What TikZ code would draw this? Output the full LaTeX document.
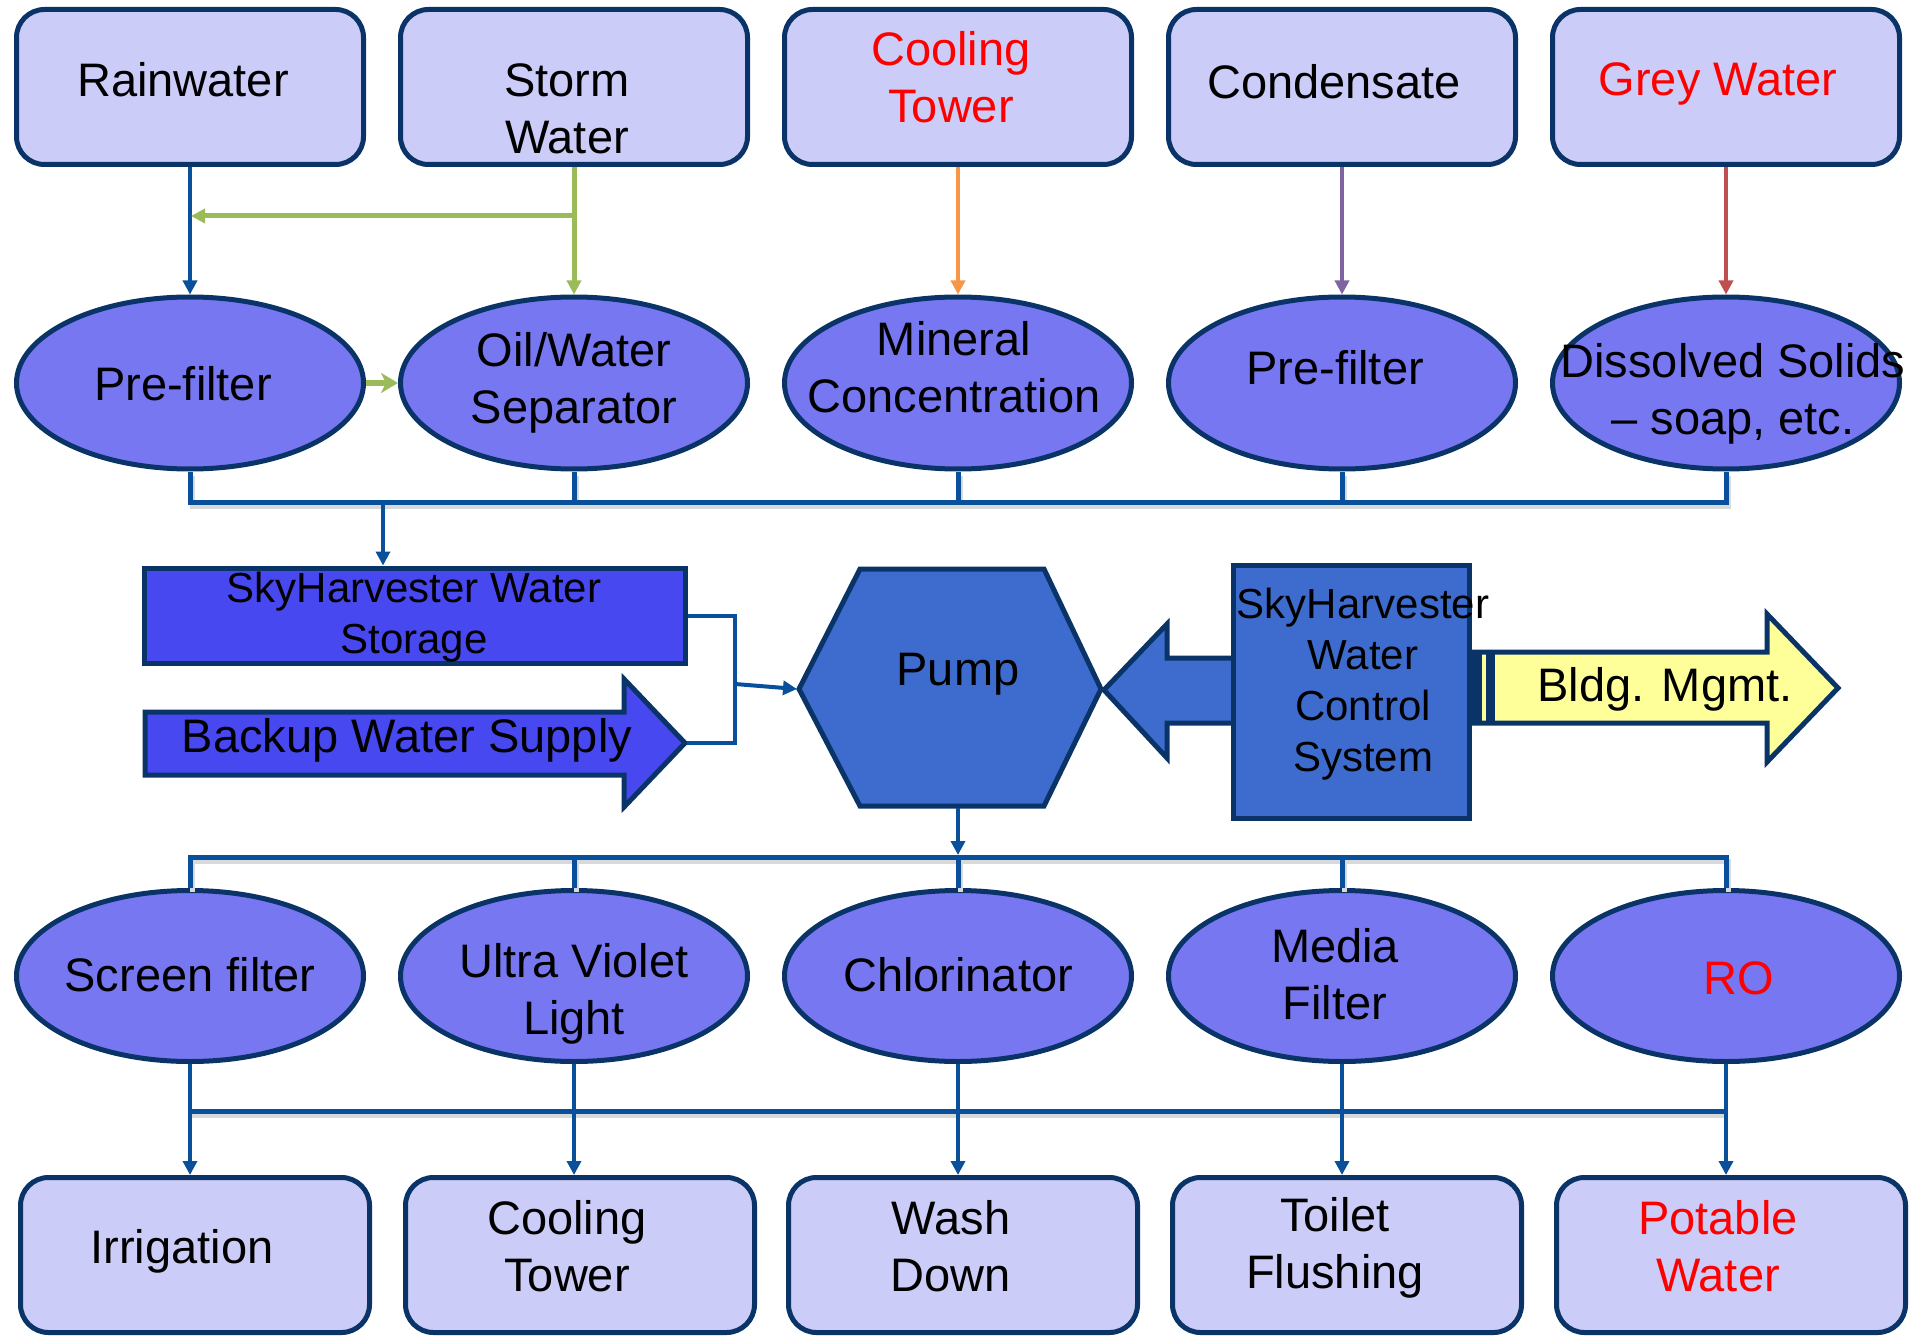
\documentclass[tikz,border=0pt]{standalone}
\usepackage{fontspec}
\setmainfont{Liberation Sans}
\usetikzlibrary{arrows.meta,shapes.geometric,calc}
\definecolor{navy}{RGB}{10,52,104}
\definecolor{boxfill}{RGB}{204,204,248}
\definecolor{ellfill}{RGB}{119,119,242}
\definecolor{storefill}{RGB}{72,72,240}
\definecolor{pumpfill}{RGB}{62,108,206}
\definecolor{linkblue}{RGB}{8,80,156}
\definecolor{greenl}{RGB}{155,187,89}
\definecolor{orangel}{RGB}{247,150,70}
\definecolor{purplel}{RGB}{128,100,162}
\definecolor{redl}{RGB}{192,80,77}
\definecolor{redtext}{RGB}{255,0,0}
\definecolor{bldgfill}{RGB}{255,255,153}
\begin{document}
\begin{tikzpicture}[x=1pt,y=-1pt,
  srcbox/.style={draw=navy,line width=5pt,fill=boxfill,rounded corners=28pt,minimum width=347pt,minimum height=155pt,inner sep=0pt},
  dstbox/.style={srcbox,minimum width=349pt},
  proc/.style={ellipse,draw=navy,line width=5pt,fill=ellfill,minimum width=347pt,minimum height=172pt,inner sep=0pt},
  lbl/.style={font=\fontsize{47}{57}\selectfont,align=center,inner sep=0pt},
  smlbl/.style={font=\fontsize{42}{51}\selectfont,align=center,inner sep=0pt},
  shapeline/.style={draw=navy,line width=5pt,line join=miter},
  link/.style={draw=linkblue,line width=4pt},
  bus/.style={draw=linkblue,line width=5pt,line join=miter,preaction={draw=black!15,line width=5pt,transform canvas={shift={(2,4)}}}},
  glink/.style={draw=greenl,line width=5pt},
  tip/.style={-{Triangle[length=14pt,width=14pt]}},
]
\useasboundingbox (0,0) rectangle (1911,1337);

% ---------- top sources ----------
\node[srcbox] (rain)  at (190,87) {};
\node[srcbox] (storm) at (574,87) {};
\node[srcbox] (cool)  at (958,87) {};
\node[srcbox] (cond)  at (1342,87) {};
\node[srcbox] (grey)  at (1726,87) {};
\node[lbl] (rainT)  at (183,80) {Rainwater};
\node[lbl] (stormT) at (567,109) {Storm\\Water};
\node[lbl,text=redtext] (coolT) at (951,77) {Cooling\\Tower};
\node[lbl] (condT)  at (1334,82) {Condensate};
\node[lbl,text=redtext] (greyT) at (1718,84) {Grey Water};

% ---------- first treatment row ----------
\node[proc] (pf1) at (190,383) {};
\node[proc] (ows) at (574,383) {};
\node[proc] (mine) at (958,383) {};
\node[proc] (pf2) at (1342,383) {};
\node[proc] (diss) at (1726,383) {};
\node[lbl] (pf1T)  at (183,384) {Pre-filter};
\node[lbl] (owsT)  at (574,383) {Oil/Water\\Separator};
\node[lbl] (mineT) at (954,367) {Mineral\\Concentration};
\node[lbl] (pf2T)  at (1335,368) {Pre-filter};
\node[lbl] (dissT) at (1733,394) {Dissolved Solids\\– soap, etc.};

% connectors top -> row 1
\draw[link,tip] (rain) -- (pf1);
\draw[glink,tip] (storm) -- (ows);
\coordinate (gsplit) at (574,216);
\coordinate (gend) at (191,216);
\draw[glink,tip] (gsplit) -- (gend);
\draw[glink,-{Stealth[length=17pt,width=20pt,inset=5pt]}] (pf1) -- (ows);
\draw[draw=orangel,line width=4pt,tip] (cool) -- (mine);
\draw[draw=purplel,line width=4pt,tip] (cond) -- (pf2);
\draw[draw=redl,line width=4pt,tip] (grey) -- (diss);

% collector bus 1
\coordinate (busA) at (0,502);
\draw[bus] (pf1.south) -- (pf1.south |- busA) -- (diss.south |- busA) -- (diss.south)
  (ows.south) -- (ows.south |- busA)
  (mine.south) -- (mine.south |- busA)
  (pf2.south) -- (pf2.south |- busA);

% ---------- storage & backup ----------
\node[draw=navy,line width=5pt,fill=storefill,minimum width=541pt,minimum height=95pt,inner sep=0pt] (store) at (414.5,615.5) {};
\node[smlbl] (storeT) at (414,617) {SkyHarvester Water\\Storage};
\coordinate (sdrop) at (383,502);
\draw[link,tip] (sdrop) -- (sdrop |- store.north);

\draw[shapeline,fill=storefill] (145,712) -- (624,712) -- (624,679) -- (685,743) -- (624,807) -- (624,775) -- (145,775) -- cycle;
\coordinate (backTip) at (687,743);
\node[lbl] (backup) at (407,740) {Backup Water Supply};

% ---------- pump ----------
\draw[shapeline,fill=pumpfill] (799,689) -- (860,569) -- (1044,569) -- (1101,689) -- (1044,806) -- (860,806) -- cycle;
\coordinate (pumpW) at (797,689);
\coordinate (pumpS) at (958,808);
\node[lbl] (pump) at (958,674) {Pump};

% storage/backup -> pump
\coordinate (mergeX) at (735,684);
\draw[link,line join=miter] (store.east) -- (store.east -| mergeX) |- (backTip);
\draw[link,tip] (mergeX) -- (pumpW);

% ---------- control system ----------
\draw[shapeline,fill=pumpfill] (1245,658) -- (1167,658) -- (1167,624) -- (1104,690) -- (1167,758) -- (1167,723) -- (1245,723);
\node[draw=navy,line width=5pt,fill=pumpfill,minimum width=236pt,minimum height=253pt,inner sep=0pt] (ctrl) at (1351.5,692) {};
\node[smlbl] (ctrlT) at (1363,684) {SkyHarvester\\Water\\Control\\System};

% ---------- building management arrow ----------
\draw[shapeline,fill=bldgfill] (1472,652) -- (1767,652) -- (1767,614) -- (1838,688) -- (1767,762) -- (1767,723) -- (1472,723) -- cycle;
\fill[navy] (1472,650) rectangle (1482,725);
\fill[navy] (1486,650) rectangle (1495,725);
\node[lbl] (bldg) at (1665,689) {Bldg. Mgmt.};

% ---------- second treatment row ----------
\node[proc,minimum height=171pt] (scr) at (190,976) {};
\node[proc,minimum height=171pt] (uv)  at (574,976) {};
\node[proc,minimum height=171pt] (chl) at (958,976) {};
\node[proc,minimum height=171pt] (med) at (1342,976) {};
\node[proc,minimum height=171pt] (ro)  at (1726,976) {};
\node[lbl] (scrT) at (190,975) {Screen filter};
\node[lbl] (uvT)  at (574,994) {Ultra Violet\\Light};
\node[lbl] (chlT) at (958,975) {Chlorinator};
\node[lbl] (medT) at (1335,974) {Media\\Filter};
\node[lbl,text=redtext] (roT) at (1739,978) {RO};

% distribution bus 2
\coordinate (busB) at (0,857);
\draw[link,tip] (pumpS) -- (958,855);
\draw[bus] (scr.north) -- (scr.north |- busB) -- (ro.north |- busB) -- (ro.north)
  (uv.north) -- (uv.north |- busB)
  (chl.north) -- (chl.north |- busB)
  (med.north) -- (med.north |- busB);

% ---------- end uses ----------
\node[dstbox] (irr)  at (195,1255) {};
\node[dstbox] (ctow) at (580,1255) {};
\node[dstbox] (wash) at (963,1255) {};
\node[dstbox] (toil) at (1347,1255) {};
\node[dstbox] (pot)  at (1731,1255) {};
\node[lbl] (irrT)  at (182,1251) {Irrigation};
\node[lbl] (ctowT) at (567,1246) {Cooling\\Tower};
\node[lbl] (washT) at (951,1246) {Wash\\Down};
\node[lbl] (toilT) at (1335,1248) {Toilet\\Flushing};
\node[lbl,text=redtext] (potT) at (1718,1246) {Potable\\Water};

% bus 3 and arrows
\coordinate (busC) at (0,1111);
\draw[bus] (scr.south |- busC) -- (ro.south |- busC);
\draw[link,tip] (scr.south) -- (scr.south |- irr.north);
\draw[link,tip] (uv.south) -- (uv.south |- ctow.north);
\draw[link,tip] (chl.south) -- (chl.south |- wash.north);
\draw[link,tip] (med.south) -- (med.south |- toil.north);
\draw[link,tip] (ro.south) -- (ro.south |- pot.north);
\end{tikzpicture}
\end{document}
